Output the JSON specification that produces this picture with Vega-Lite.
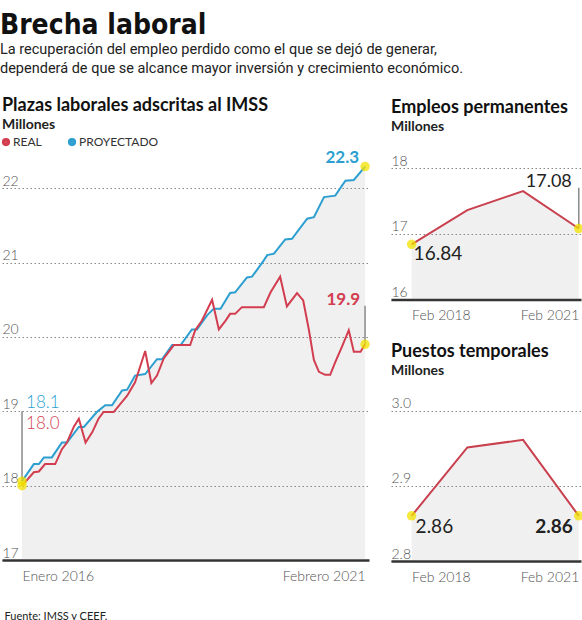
{
  "$schema": "https://vega.github.io/schema/vega-lite/v6.json",
  "background": "white",
  "padding": {"left": 0, "top": 11, "right": 0, "bottom": 0},
  "title": {
    "text": "Brecha laboral",
    "subtitle": [
      "La recuperación del empleo perdido como el que se dejó de generar,",
      "dependerá de que se alcance mayor inversión y crecimiento económico."
    ],
    "anchor": "start",
    "font": "DejaVu Sans Condensed, Liberation Sans",
    "fontSize": 28,
    "fontWeight": "bold",
    "color": "#111111",
    "subtitleFont": "Roboto",
    "subtitleFontSize": 14.5,
    "subtitleFontWeight": "normal",
    "subtitleColor": "#222222",
    "subtitleLineHeight": 19,
    "subtitlePadding": 3,
    "offset": 21.5
  },
  "datasets": {
    "plazas": [
      {"serie": "PROYECTADO", "mes": 0, "valor": 18.06},
      {"serie": "PROYECTADO", "mes": 2.1, "valor": 18.29},
      {"serie": "PROYECTADO", "mes": 3, "valor": 18.29},
      {"serie": "PROYECTADO", "mes": 3.9, "valor": 18.38},
      {"serie": "PROYECTADO", "mes": 5.3, "valor": 18.38},
      {"serie": "PROYECTADO", "mes": 7.1, "valor": 18.58},
      {"serie": "PROYECTADO", "mes": 8, "valor": 18.58},
      {"serie": "PROYECTADO", "mes": 10.1, "valor": 18.79},
      {"serie": "PROYECTADO", "mes": 11, "valor": 18.79},
      {"serie": "PROYECTADO", "mes": 13.3, "valor": 18.99},
      {"serie": "PROYECTADO", "mes": 14.8, "valor": 19.08},
      {"serie": "PROYECTADO", "mes": 16, "valor": 19.08},
      {"serie": "PROYECTADO", "mes": 17.8, "valor": 19.28},
      {"serie": "PROYECTADO", "mes": 18.7, "valor": 19.29},
      {"serie": "PROYECTADO", "mes": 20.1, "valor": 19.48},
      {"serie": "PROYECTADO", "mes": 21.9, "valor": 19.5},
      {"serie": "PROYECTADO", "mes": 24, "valor": 19.7},
      {"serie": "PROYECTADO", "mes": 24.9, "valor": 19.7},
      {"serie": "PROYECTADO", "mes": 26.7, "valor": 19.89},
      {"serie": "PROYECTADO", "mes": 28.2, "valor": 19.89},
      {"serie": "PROYECTADO", "mes": 30.2, "valor": 20.1},
      {"serie": "PROYECTADO", "mes": 31.1, "valor": 20.1},
      {"serie": "PROYECTADO", "mes": 32.9, "valor": 20.29},
      {"serie": "PROYECTADO", "mes": 34.1, "valor": 20.38},
      {"serie": "PROYECTADO", "mes": 35.3, "valor": 20.38},
      {"serie": "PROYECTADO", "mes": 37, "valor": 20.59},
      {"serie": "PROYECTADO", "mes": 37.9, "valor": 20.6},
      {"serie": "PROYECTADO", "mes": 40, "valor": 20.8},
      {"serie": "PROYECTADO", "mes": 40.9, "valor": 20.81},
      {"serie": "PROYECTADO", "mes": 42.9, "valor": 21.02},
      {"serie": "PROYECTADO", "mes": 43.6, "valor": 21.1},
      {"serie": "PROYECTADO", "mes": 44.8, "valor": 21.12},
      {"serie": "PROYECTADO", "mes": 46.8, "valor": 21.31},
      {"serie": "PROYECTADO", "mes": 48, "valor": 21.32},
      {"serie": "PROYECTADO", "mes": 50.7, "valor": 21.59},
      {"serie": "PROYECTADO", "mes": 51.9, "valor": 21.61},
      {"serie": "PROYECTADO", "mes": 53.7, "valor": 21.88},
      {"serie": "PROYECTADO", "mes": 55.7, "valor": 21.9},
      {"serie": "PROYECTADO", "mes": 57.5, "valor": 22.1},
      {"serie": "PROYECTADO", "mes": 59, "valor": 22.11},
      {"serie": "PROYECTADO", "mes": 61, "valor": 22.29},
      {"serie": "REAL", "mes": 0, "valor": 18.0},
      {"serie": "REAL", "mes": 2.1, "valor": 18.18},
      {"serie": "REAL", "mes": 3, "valor": 18.19},
      {"serie": "REAL", "mes": 4.1, "valor": 18.29},
      {"serie": "REAL", "mes": 5.9, "valor": 18.29},
      {"serie": "REAL", "mes": 7.1, "valor": 18.49},
      {"serie": "REAL", "mes": 8, "valor": 18.58},
      {"serie": "REAL", "mes": 9.2, "valor": 18.79},
      {"serie": "REAL", "mes": 10.1, "valor": 18.9},
      {"serie": "REAL", "mes": 11.3, "valor": 18.58},
      {"serie": "REAL", "mes": 12.5, "valor": 18.72},
      {"serie": "REAL", "mes": 13.6, "valor": 18.9},
      {"serie": "REAL", "mes": 14.5, "valor": 18.99},
      {"serie": "REAL", "mes": 16.3, "valor": 18.99},
      {"serie": "REAL", "mes": 18.7, "valor": 19.21},
      {"serie": "REAL", "mes": 20.1, "valor": 19.39},
      {"serie": "REAL", "mes": 21.9, "valor": 19.81},
      {"serie": "REAL", "mes": 23, "valor": 19.38},
      {"serie": "REAL", "mes": 24, "valor": 19.48},
      {"serie": "REAL", "mes": 25.2, "valor": 19.71},
      {"serie": "REAL", "mes": 27, "valor": 19.89},
      {"serie": "REAL", "mes": 29.9, "valor": 19.89},
      {"serie": "REAL", "mes": 30.8, "valor": 20.09},
      {"serie": "REAL", "mes": 32, "valor": 20.22},
      {"serie": "REAL", "mes": 33.8, "valor": 20.5},
      {"serie": "REAL", "mes": 35, "valor": 20.1},
      {"serie": "REAL", "mes": 36.2, "valor": 20.22},
      {"serie": "REAL", "mes": 37, "valor": 20.31},
      {"serie": "REAL", "mes": 37.9, "valor": 20.31},
      {"serie": "REAL", "mes": 39.1, "valor": 20.4},
      {"serie": "REAL", "mes": 43, "valor": 20.4},
      {"serie": "REAL", "mes": 44.2, "valor": 20.6},
      {"serie": "REAL", "mes": 45.9, "valor": 20.81},
      {"serie": "REAL", "mes": 47.1, "valor": 20.41},
      {"serie": "REAL", "mes": 48.9, "valor": 20.59},
      {"serie": "REAL", "mes": 50, "valor": 20.49},
      {"serie": "REAL", "mes": 51, "valor": 20.1},
      {"serie": "REAL", "mes": 51.9, "valor": 19.69},
      {"serie": "REAL", "mes": 52.8, "valor": 19.53},
      {"serie": "REAL", "mes": 53.9, "valor": 19.49},
      {"serie": "REAL", "mes": 54.8, "valor": 19.49},
      {"serie": "REAL", "mes": 55.7, "valor": 19.66},
      {"serie": "REAL", "mes": 56.9, "valor": 19.87},
      {"serie": "REAL", "mes": 58.1, "valor": 20.09},
      {"serie": "REAL", "mes": 59, "valor": 19.8},
      {"serie": "REAL", "mes": 60.2, "valor": 19.8},
      {"serie": "REAL", "mes": 61, "valor": 19.9}
    ],
    "permanentes": [
      {"anio": 2018, "valor": 16.84},
      {"anio": 2019, "valor": 17.36},
      {"anio": 2020, "valor": 17.65},
      {"anio": 2021, "valor": 17.08}
    ],
    "temporales": [
      {"anio": 2018, "valor": 2.86},
      {"anio": 2019, "valor": 2.951},
      {"anio": 2020, "valor": 2.961},
      {"anio": 2021, "valor": 2.86}
    ]
  },
  "spacing": 21,
  "hconcat": [
    {
      "width": 367,
      "height": 409,
      "title": {"text": "Plazas laborales adscritas al IMSS", "subtitle": "Millones", "offset": 17},
      "data": {"name": "plazas"},
      "encoding": {
        "x": {
          "field": "mes",
          "type": "quantitative",
          "scale": {"domain": [-3.56, 61.7], "nice": false, "zero": false},
          "axis": {
            "values": [0, 61],
            "labelExpr": "datum.value == 0 ? 'Enero 2016' : 'Febrero 2021'",
            "labelAlign": {"condition": {"test": "datum.value == 0", "value": "left"}, "value": "right"},
            "title": "Fuente: IMSS y CEEF.",
            "titleX": 2,
            "titleY": 59,
            "titleAlign": "left",
            "titleAnchor": "start",
            "titleBaseline": "alphabetic",
            "titleFont": "Lato",
            "titleFontSize": 11,
            "titleFontWeight": "normal",
            "titleColor": "#222222"
          }
        },
        "y": {
          "field": "valor",
          "type": "quantitative",
          "scale": {"domain": [17, 22.5], "nice": false, "zero": false},
          "axis": {"values": [17, 18, 19, 20, 21, 22], "title": null}
        }
      },
      "layer": [
        {
          "transform": [{"filter": "datum.serie == 'PROYECTADO'"}],
          "mark": {"type": "area", "fill": "#8a8a8a", "fillOpacity": 0.13},
          "encoding": {"y2": {"datum": 17}}
        },
        {
          "transform": [{"filter": "datum.serie == 'REAL' && datum.mes == 0"}],
          "mark": {"type": "rule", "color": "#8a8a8a", "strokeWidth": 1.5},
          "encoding": {"y2": {"datum": 19}}
        },
        {
          "transform": [{"filter": "datum.serie == 'REAL' && datum.mes == 61"}],
          "mark": {"type": "rule", "color": "#8a8a8a", "strokeWidth": 1.5},
          "encoding": {"y2": {"datum": 20.42}}
        },
        {
          "mark": {"type": "line", "strokeWidth": 2},
          "encoding": {
            "color": {
              "field": "serie",
              "type": "nominal",
              "scale": {"domain": ["REAL", "PROYECTADO"], "range": ["#d23e50", "#2c9fd0"]},
              "legend": {
                "orient": "none",
                "legendX": -2,
                "legendY": -15,
                "direction": "horizontal",
                "title": null,
                "symbolType": "circle",
                "symbolSize": 14,
                "symbolStrokeWidth": 4.5,
                "labelFont": "Lato",
                "labelFontSize": 12,
                "labelColor": "#333333",
                "columnPadding": 19,
                "labelOffset": 1,
                "padding": 0
              }
            }
          }
        },
        {
          "transform": [{"filter": "datum.mes == 0 || datum.mes == 61"}],
          "mark": {"type": "circle", "color": "#f2e200", "size": 90, "opacity": 0.75}
        },
        {
          "transform": [{"filter": "datum.serie == 'PROYECTADO' && datum.mes == 0"}],
          "mark": {"type": "text", "align": "left", "baseline": "alphabetic", "dx": 4, "dy": -73, "fontSize": 17, "fontWeight": 300, "color": "#2c9fd0"},
          "encoding": {"text": {"field": "valor", "format": ".1f"}}
        },
        {
          "transform": [{"filter": "datum.serie == 'REAL' && datum.mes == 0"}],
          "mark": {"type": "text", "align": "left", "baseline": "alphabetic", "dx": 4, "dy": -57, "fontSize": 17, "fontWeight": 300, "color": "#d23e50"},
          "encoding": {"text": {"field": "valor", "format": ".1f"}}
        },
        {
          "transform": [{"filter": "datum.serie == 'PROYECTADO' && datum.mes == 61"}],
          "mark": {"type": "text", "align": "right", "baseline": "alphabetic", "dx": -6, "dy": -4, "fontSize": 17, "fontWeight": "bold", "color": "#2c9fd0"},
          "encoding": {"text": {"field": "valor", "format": ".1f"}}
        },
        {
          "transform": [{"filter": "datum.serie == 'REAL' && datum.mes == 61"}],
          "mark": {"type": "text", "align": "right", "baseline": "alphabetic", "dx": -5, "dy": -39, "fontSize": 17, "fontWeight": "bold", "color": "#d23e50"},
          "encoding": {"text": {"field": "valor", "format": ".1f"}}
        }
      ]
    },
    {
      "spacing": 19,
      "vconcat": [
        {
          "width": 190,
          "height": 148.5,
          "title": {"text": "Empleos permanentes", "subtitle": "Millones", "offset": 17},
          "data": {"name": "permanentes"},
          "encoding": {
            "x": {
              "field": "anio",
              "type": "quantitative",
              "scale": {"domain": [2017.63, 2021.04], "nice": false, "zero": false},
              "axis": {
                "values": [2018, 2021],
                "labelExpr": "'Feb ' + datum.value",
                "labelAlign": {"condition": {"test": "datum.value == 2018", "value": "left"}, "value": "right"},
                "title": null
              }
            },
            "y": {
              "field": "valor",
              "type": "quantitative",
              "scale": {"domain": [16, 18.26], "nice": false, "zero": false},
              "axis": {"values": [16, 17, 18], "format": "d", "title": null}
            }
          },
          "layer": [
            {"mark": {"type": "area", "fill": "#8a8a8a", "fillOpacity": 0.13}, "encoding": {"y2": {"datum": 16}}},
            {
              "transform": [{"filter": "datum.anio == 2021"}],
              "mark": {"type": "rule", "color": "#8a8a8a", "strokeWidth": 1.5},
              "encoding": {"y2": {"datum": 17.7}}
            },
            {"mark": {"type": "line", "color": "#c9404e", "strokeWidth": 2}},
            {
              "transform": [{"filter": "datum.anio == 2018 || datum.anio == 2021"}],
              "mark": {"type": "circle", "color": "#f2e200", "size": 90, "opacity": 0.75}
            },
            {
              "transform": [{"filter": "datum.anio == 2021"}],
              "mark": {"type": "text", "align": "right", "baseline": "alphabetic", "dx": -7, "dy": -42, "fontSize": 18, "color": "#222222"},
              "encoding": {"text": {"field": "valor", "format": ".2f"}}
            },
            {
              "transform": [{"filter": "datum.anio == 2018"}],
              "mark": {"type": "text", "align": "left", "baseline": "alphabetic", "dx": 2, "dy": 16, "fontSize": 19, "color": "#222222"},
              "encoding": {"text": {"field": "valor", "format": ".2f"}}
            }
          ]
        },
        {
          "width": 190,
          "height": 158,
          "title": {"text": "Puestos temporales", "subtitle": "Millones", "offset": 19},
          "data": {"name": "temporales"},
          "encoding": {
            "x": {
              "field": "anio",
              "type": "quantitative",
              "scale": {"domain": [2017.63, 2021.04], "nice": false, "zero": false},
              "axis": {
                "values": [2018, 2021],
                "labelExpr": "'Feb ' + datum.value",
                "labelAlign": {"condition": {"test": "datum.value == 2018", "value": "left"}, "value": "right"},
                "title": null
              }
            },
            "y": {
              "field": "valor",
              "type": "quantitative",
              "scale": {"domain": [2.8, 3.01], "nice": false, "zero": false},
              "axis": {"values": [2.8, 2.9, 3.0], "format": ".1f", "title": null}
            }
          },
          "layer": [
            {"mark": {"type": "area", "fill": "#8a8a8a", "fillOpacity": 0.13}, "encoding": {"y2": {"datum": 2.8}}},
            {"mark": {"type": "line", "color": "#c9404e", "strokeWidth": 2}},
            {
              "transform": [{"filter": "datum.anio == 2018 || datum.anio == 2021"}],
              "mark": {"type": "circle", "color": "#f2e200", "size": 90, "opacity": 0.75}
            },
            {
              "transform": [{"filter": "datum.anio == 2018"}],
              "mark": {"type": "text", "align": "left", "baseline": "alphabetic", "dx": 4, "dy": 17, "fontSize": 19, "color": "#222222"},
              "encoding": {"text": {"field": "valor", "format": ".2f"}}
            },
            {
              "transform": [{"filter": "datum.anio == 2021"}],
              "mark": {"type": "text", "align": "right", "baseline": "alphabetic", "dx": -6, "dy": 17, "fontSize": 19, "fontWeight": "bold", "color": "#222222"},
              "encoding": {"text": {"field": "valor", "format": ".2f"}}
            }
          ]
        }
      ]
    }
  ],
  "config": {
    "view": {"stroke": null},
    "font": "Lato",
    "title": {
      "anchor": "start",
      "font": "Lato",
      "fontSize": 18,
      "fontWeight": "bold",
      "color": "#111111",
      "subtitleFont": "Lato",
      "subtitleFontSize": 14,
      "subtitleFontWeight": "bold",
      "subtitleColor": "#222222",
      "subtitlePadding": 3
    },
    "axis": {
      "labelFont": "Lato",
      "labelFontSize": 14,
      "labelColor": "#555555",
      "labelFontWeight": 300,
      "ticks": false,
      "domain": false,
      "grid": false,
      "labelFlush": false,
      "labelOverlap": false
    },
    "axisY": {
      "grid": true,
      "gridDash": [1.5, 2.5],
      "gridColor": "#888888",
      "gridWidth": 1.2,
      "labelAlign": "left",
      "labelBaseline": "alphabetic",
      "labelPadding": 0,
      "labelOffset": -3
    },
    "axisX": {
      "domain": true,
      "domainColor": "#333333",
      "domainWidth": 2.5,
      "labelPadding": 9,
      "labelBaseline": "top"
    }
  }
}
